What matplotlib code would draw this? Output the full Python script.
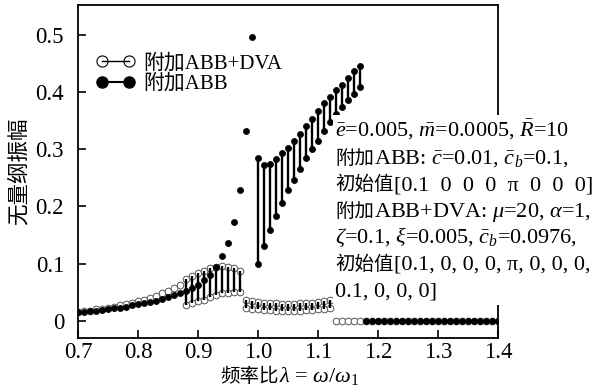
import numpy as np
import matplotlib
matplotlib.use("Agg")
import matplotlib.pyplot as plt
from matplotlib.lines import Line2D
from matplotlib.patches import Rectangle

plt.rcParams['mathtext.fontset'] = 'custom'
plt.rcParams['mathtext.rm'] = 'Liberation Serif'
plt.rcParams['mathtext.it'] = 'Liberation Serif:italic'
plt.rcParams['mathtext.bf'] = 'Liberation Serif:bold'

SERIF = 'Liberation Serif'
CJK = 'Noto Sans CJK SC'

# ---- ABB only ----
# periodic response below resonance
abb_lam_a = np.round(np.arange(0.70, 0.995, 0.01), 2)
abb_amp_a = [0.015, 0.016, 0.017, 0.018, 0.019, 0.020, 0.022, 0.023, 0.025, 0.027,
             0.029, 0.031, 0.033, 0.035, 0.038, 0.041, 0.045, 0.048, 0.052, 0.057,
             0.063, 0.071, 0.081, 0.095, 0.113, 0.136, 0.172, 0.228, 0.332, 0.496]
# non-periodic band (max / min)
abb_lam_b = np.round(np.arange(1.00, 1.175, 0.01), 2)
abb_max_b = [0.284, 0.272, 0.274, 0.283, 0.293, 0.303, 0.314, 0.327, 0.340, 0.353,
             0.366, 0.380, 0.391, 0.403, 0.413, 0.424, 0.437, 0.445]
abb_min_b = [0.100, 0.131, 0.158, 0.183, 0.206, 0.228, 0.246, 0.265, 0.284, 0.301,
             0.314, 0.332, 0.348, 0.361, 0.374, 0.386, 0.397, 0.409]
# quenched response
abb_lam_c = np.round(np.arange(1.18, 1.405, 0.01), 2)
abb_amp_c = [0.0, 0.0, 0.0, 0.0, 0.0, 0.0, 0.0, 0.0, 0.0, 0.0, 0.0, 0.0,
             0.0, 0.0, 0.0, 0.0, 0.0, 0.0, 0.0, 0.0, 0.0, 0.0, 0.0]

# ---- ABB + DVA ----
dva_lam_a = np.round(np.arange(0.70, 0.875, 0.01), 2)
dva_amp_a = [0.016, 0.017, 0.018, 0.020, 0.021, 0.023, 0.025, 0.027, 0.029, 0.031,
             0.034, 0.037, 0.040, 0.044, 0.048, 0.053, 0.058, 0.063]
dva_lam_b = np.round(np.arange(0.88, 0.975, 0.01), 2)
dva_max_b = [0.073, 0.079, 0.083, 0.088, 0.092, 0.095, 0.096, 0.095, 0.092, 0.088]
dva_min_b = [0.028, 0.031, 0.034, 0.037, 0.041, 0.045, 0.048, 0.049, 0.051, 0.051]
dva_lam_c = np.round(np.arange(0.98, 1.125, 0.01), 2)
dva_max_c = [0.036, 0.034, 0.033, 0.032, 0.031, 0.031, 0.030, 0.030, 0.030, 0.031,
             0.031, 0.032, 0.033, 0.035, 0.037]
dva_min_c = [0.022, 0.021, 0.020, 0.019, 0.019, 0.018, 0.018, 0.018, 0.018, 0.018,
             0.019, 0.019, 0.020, 0.021, 0.022]
dva_lam_d = np.round(np.arange(1.13, 1.405, 0.01), 2)
dva_amp_d = [0.0, 0.0, 0.0, 0.0, 0.0, 0.0, 0.0, 0.0, 0.0, 0.0, 0.0, 0.0, 0.0, 0.0,
             0.0, 0.0, 0.0, 0.0, 0.0, 0.0, 0.0, 0.0, 0.0, 0.0, 0.0, 0.0, 0.0, 0.0]

xticks = [0.7, 0.8, 0.9, 1.0, 1.1, 1.2, 1.3, 1.4]
yticks = [0, 0.1, 0.2, 0.3, 0.4, 0.5]
ytick_labels = ['0', '0.1', '0.2', '0.3', '0.4', '0.5']

fig = plt.figure(figsize=(6.03, 3.88), dpi=100)
ax = fig.add_axes([78 / 603, 50.5 / 388, 420 / 603, 332.5 / 388])

open_kw = dict(ls='none', marker='o', ms=4.8, mfc='white', mec='#555555', mew=0.7)
fill_kw = dict(ls='none', marker='o', ms=4.4, mfc='k', mec='k', mew=0.5)

# DVA case underneath
ax.plot(dva_lam_a, dva_amp_a, zorder=3, **open_kw)
ax.plot(dva_lam_d, dva_amp_d, zorder=3, **open_kw)
for lam, hi, lo in [(dva_lam_b, dva_max_b, dva_min_b), (dva_lam_c, dva_max_c, dva_min_c)]:
    ax.plot(lam, hi, zorder=3, **open_kw)
    ax.plot(lam, lo, zorder=3, **open_kw)
    ax.vlines(lam, lo, hi, colors='k', lw=1.7, zorder=4)

# ABB case on top
ax.plot(abb_lam_a, abb_amp_a, zorder=5, **fill_kw)
ax.plot(abb_lam_c, abb_amp_c, zorder=5, **fill_kw)
ax.vlines(abb_lam_b, abb_min_b, abb_max_b, colors='k', lw=1.7, zorder=5)
ax.plot(abb_lam_b, abb_max_b, zorder=5, **fill_kw)
ax.plot(abb_lam_b, abb_min_b, zorder=5, **fill_kw)

ax.set_xlim(0.7, 1.4)
ax.set_ylim(-0.029, 0.552)
ax.set_xticks(xticks)
ax.set_xticklabels([f'{v:.1f}' for v in xticks])
ax.set_yticks(yticks)
ax.set_yticklabels(ytick_labels)
ax.tick_params(direction='in', length=6, width=1.2, labelsize=16.5)
ax.tick_params(axis='y', pad=10)
ax.tick_params(axis='x', pad=3)
for lab in ax.get_xticklabels() + ax.get_yticklabels():
    lab.set_family(SERIF)
for sp in ax.spines.values():
    sp.set_linewidth(1.3)

ax.set_ylabel('无量纲振幅', family=CJK, fontsize=15.5, labelpad=4)

handles = [
    Line2D([], [], color='k', lw=1.0, marker='o', ms=8, mfc='none', mec='k', mew=0.8),
    Line2D([], [], color='k', lw=1.5, marker='o', ms=8, mfc='k', mec='k'),
]
leg = ax.legend(handles, ['附加ABB+DVA', '附加ABB'], loc='upper left',
                bbox_to_anchor=(-0.002, 0.91), frameon=False, numpoints=2,
                handlelength=1.9, handletextpad=0.35, labelspacing=0.05,
                prop={'family': [SERIF, CJK], 'size': 15})

# white panel for the parameter notes (hides part of the right spine)
fig.add_artist(Rectangle((333 / 603, 83 / 388), 270 / 603, 190 / 388,
                         transform=fig.transFigure, facecolor='white',
                         edgecolor='none', zorder=5))

renderer = fig.canvas.get_renderer()


def piece_props(kind):
    if kind == 'cjk':
        return dict(family=CJK, fontsize=14)
    return dict(family=SERIF, fontsize=16)


def rich_line(x_px, y_px, parts, center=False):
    W, H = fig.bbox.width, fig.bbox.height
    texts = []
    x = x_px / W
    for s, kind in parts:
        t = fig.text(x, 1 - y_px / H, s, ha='left', va='baseline', zorder=6,
                     **piece_props(kind))
        x += t.get_window_extent(renderer).width / W
        texts.append(t)
    if center:
        shift = (x - x_px / W) / 2
        for t in texts:
            px, py = t.get_position()
            t.set_position((px - shift, py))
    return texts


notes = [
    [(r'$\bar{e}$=0.005, $\bar{m}$=0.0005, $\bar{R}$=10', 'lat')],
    [('附加', 'cjk'), (r'ABB: $\bar{c}$=0.01, $\bar{c}_b$=0.1,', 'lat')],
    [('初始值', 'cjk'), ('[0.1  0  0  0  π  0  0  0]', 'lat')],
    [('附加', 'cjk'), (r'ABB+DVA: $\mu$=20, $\alpha$=1,', 'lat')],
    [(r'$\zeta$=0.1, $\xi$=0.005, $\bar{c}_b$=0.0976,', 'lat')],
    [('初始值', 'cjk'), ('[0.1, 0, 0, 0, π, 0, 0, 0,', 'lat')],
    [('0.1, 0, 0, 0]', 'lat')],
]
for i, parts in enumerate(notes):
    rich_line(335, 137 + 26.5 * i, parts)

# x label
rich_line(290, 382, [('频率比', 'cjk'), (r'$\lambda$ = $\omega$/$\omega_1$', 'lat')], center=True)

fig.savefig('out.png', dpi=100)
